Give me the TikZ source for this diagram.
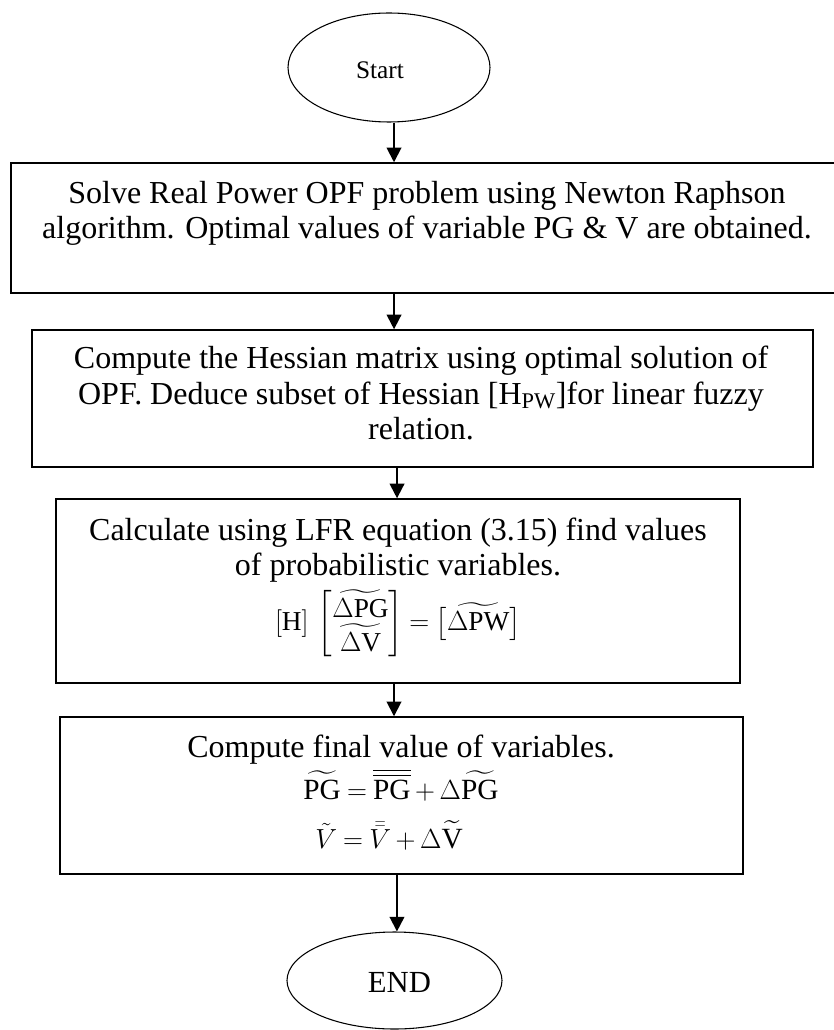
\documentclass[tikz,border=0pt]{standalone}
\usepackage{amsmath}
\usepackage{fontspec}
\setmainfont{Liberation Serif}
\usetikzlibrary{arrows.meta,shapes.geometric}
\newcommand{\tightmath}{\thickmuskip=4mu\relax\medmuskip=3mu\relax}
\begin{document}
\begin{tikzpicture}[x=0.75pt,y=-0.75pt,
  box/.style={draw,line width=1.1pt,inner sep=0pt,rectangle},
  term/.style={draw,ellipse,line width=0.8pt,inner sep=0pt},
  ln/.style={font=\fontsize{24}{26}\selectfont,anchor=base,inner sep=0pt},
  eqn/.style={font=\fontsize{22}{24}\selectfont,anchor=base,inner sep=0pt},
  arr/.style={line width=1.4pt,-{Triangle[length=11pt,width=11pt]}}]
\useasboundingbox (0,0) rectangle (833,1030);
% terminals
\node[term,minimum width=202*0.75pt,minimum height=109*0.75pt] (start) at (389,67.5) {};
\node[font=\fontsize{19}{22}\selectfont,anchor=base,inner sep=0pt] (tstart) at (380,79) {Start};
\node[term,minimum width=215*0.75pt,minimum height=97*0.75pt] (end) at (394.5,980.5) {};
\node[font=\fontsize{23}{26}\selectfont,anchor=base,inner sep=0pt] (tend) at (399.5,992) {END};
% box 1
\node[box,minimum width=829*0.75pt,minimum height=130*0.75pt] (b1) at (425.5,228) {};
\node[ln] (t11) at (427,204) {Solve Real Power OPF problem using Newton Raphson};
\node[ln] (t12) at (427,239) {algorithm. Optimal values of variable PG \& V are obtained.};
% box 2
\node[box,minimum width=781*0.75pt,minimum height=137*0.75pt] (b2) at (422.5,398.5) {};
\node[ln] (t21) at (421,368) {Compute the Hessian matrix using optimal solution of};
\node[ln] (t22) at (421,404) {OPF. Deduce subset of Hessian [H$_{\text{PW}}$]for linear fuzzy};
\node[ln] (t23) at (421,439) {relation.};
% box 3
\node[box,minimum width=684*0.75pt,minimum height=184*0.75pt] (b3) at (398,591) {};
\node[ln] (t31) at (398,540) {Calculate using LFR equation (3.15) find values};
\node[ln] (t32) at (398,575) {of probabilistic variables.};
\node[font=\fontsize{20.5}{22}\selectfont,inner sep=0pt] (eq3) at (398,624)
  {\renewcommand{\arraystretch}{0.76}\setlength{\arraycolsep}{1pt}$\tightmath[\text{H}]\,\begin{bmatrix}\widetilde{\Delta\text{PG}}\\ \widetilde{\Delta\text{V}}\end{bmatrix} = \bigl[\widetilde{\Delta\text{PW}}\bigr]$};
% box 4
\node[box,minimum width=683*0.75pt,minimum height=157*0.75pt] (b4) at (401.5,795.5) {};
\node[ln] (t41) at (401,757) {Compute final value of variables.};
\node[eqn] (t42) at (401,799) {$\tightmath\widetilde{\text{PG}} = \overline{\overline{\text{PG}}} + \Delta\widetilde{\text{PG}}$};
\node[eqn] (t43) at (389,848) {$\tightmath\tilde{V} = \bar{\bar{V}} + \Delta\widetilde{\text{V}}$};
% connectors
\draw[arr] ([xshift=3.75pt]start.south) -- ([xshift=3.75pt]start.south |- b1.north);
\draw[arr] ([xshift=-23.6pt]b1.south) -- ([xshift=-23.6pt]b1.south |- b2.north);
\draw[arr] ([xshift=-19.1pt]b2.south) -- ([xshift=-19.1pt]b2.south |- b3.north);
\draw[arr] ([xshift=-3pt]b3.south) -- ([xshift=-3pt]b3.south |- b4.north);
\draw[arr] ([xshift=-3.4pt]b4.south) -- ([xshift=-3.4pt]b4.south |- end.north);
\end{tikzpicture}
\end{document}
